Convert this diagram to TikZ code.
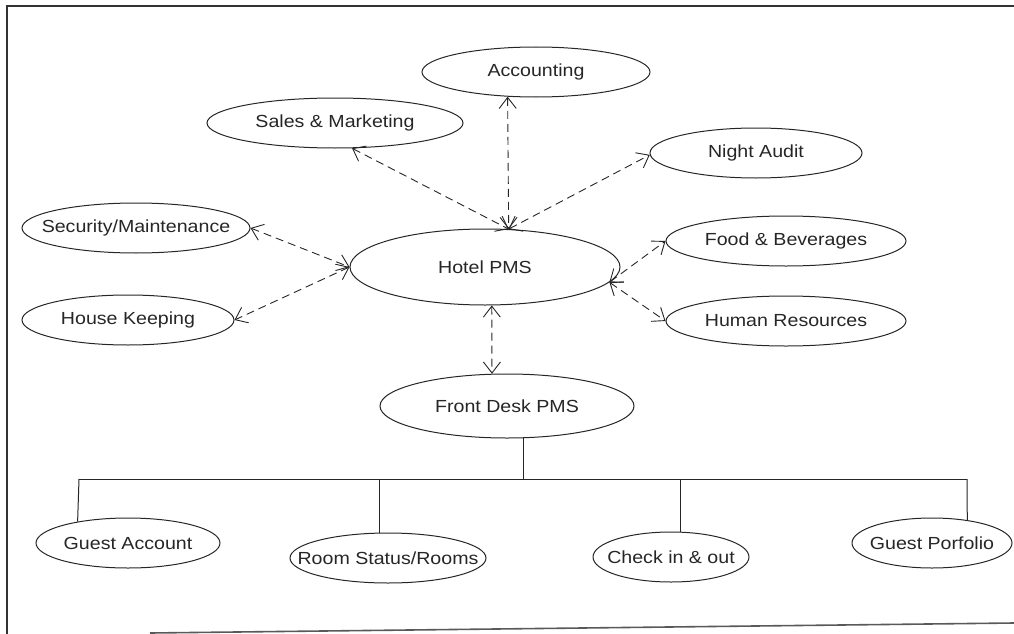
\documentclass[tikz,border=0pt]{standalone}
\usepackage{fontspec}
\setmainfont{Liberation Sans}
\usetikzlibrary{shapes.geometric,arrows.meta}
\newcommand\lbl[1]{\makebox[0pt]{\scalebox{1.12}[1]{#1}}}
\begin{document}
\begin{tikzpicture}[x=1pt,y=-1pt,
  ell/.style={ellipse, draw=black!85, line width=1pt, inner sep=0pt, text=black!85,
              font=\fontsize{17.5}{20}\selectfont},
  dep/.style={draw=black!85, line width=0.9pt, dash pattern=on 8pt off 5pt,
              {Straight Barb[length=11pt,width=17pt]}-{Straight Barb[length=11pt,width=17pt]}},
  tree/.style={draw=black!85, line width=1pt},
  frame/.style={draw=black!80, line width=1.6pt}]
\useasboundingbox (0,0) rectangle (1014,634);
% frame
\coordinate (fTL) at (7,6);
\coordinate (fTR) at (1014,6);
\coordinate (fBL) at (7,634);
\coordinate (bL) at (150,633);
\coordinate (bR) at (1014,623);
\draw[frame] (fBL) -- (fTL) -- (fTR);
\draw[frame, draw=black!65] (bL) -- (bR);
% nodes
\node[ell, minimum width=228pt, minimum height=50pt] (acc) at (536,72) {\lbl{Accounting}};
\node[ell, minimum width=256pt, minimum height=50pt] (sm) at (335,123) {\lbl{Sales \& Marketing}};
\node[ell, minimum width=212pt, minimum height=50pt] (na) at (756,153) {\lbl{Night Audit}};
\node[ell, minimum width=228pt, minimum height=50pt] (sec) at (136,228) {\lbl{Security/Maintenance}};
\node[ell, minimum width=212pt, minimum height=50pt] (hk) at (128,320) {\lbl{House Keeping}};
\node[ell, minimum width=270pt, minimum height=76pt] (hotel) at (485,267) {\lbl{Hotel PMS}};
\node[ell, minimum width=240pt, minimum height=50pt] (fb) at (786,241) {\lbl{Food \& Beverages}};
\node[ell, minimum width=240pt, minimum height=50pt] (hr) at (786,321) {\lbl{Human Resources}};
\node[ell, minimum width=254pt, minimum height=64pt] (fd) at (507,406) {\lbl{Front Desk PMS}};
\node[ell, minimum width=184pt, minimum height=50pt] (ga) at (128,543) {\lbl{Guest Account}};
\node[ell, minimum width=196pt, minimum height=50pt] (rs) at (388,558) {\lbl{Room Status/Rooms}};
\node[ell, minimum width=156pt, minimum height=50pt] (ci) at (671,557) {\lbl{Check in \& out}};
\node[ell, minimum width=160pt, minimum height=50pt] (gp) at (932,543) {\lbl{Guest Porfolio}};
% dependency connectors
\draw[dep] (acc.221) -- (hotel.58);
\draw[dep] (sm.-56) -- (hotel.58);
\draw[dep] (hotel.58) -- (na.181);
\draw[dep] (sec.east) -- (hotel.west);
\draw[dep] (hotel.west) -- (hk.east);
\draw[dep] (hotel.-7) -- (fb.west);
\draw[dep] (hotel.-7) -- (hr.west);
\draw[dep] (hotel.-80) -- (fd.115);
% tree
\coordinate (barL) at (79,479);
\coordinate (barR) at (967,479);
\draw[tree] (fd.-63) -- (fd.-63 |- barL);
\draw[tree] (barL) -- (barR);
\draw[tree] (barL) -- (ga.157);
\draw[tree] (rs.108 |- barL) -- (rs.108);
\draw[tree] (ci.70 |- barL) -- (ci.70);
\draw[tree] (barR) -- (gp.33);
\end{tikzpicture}
\end{document}
